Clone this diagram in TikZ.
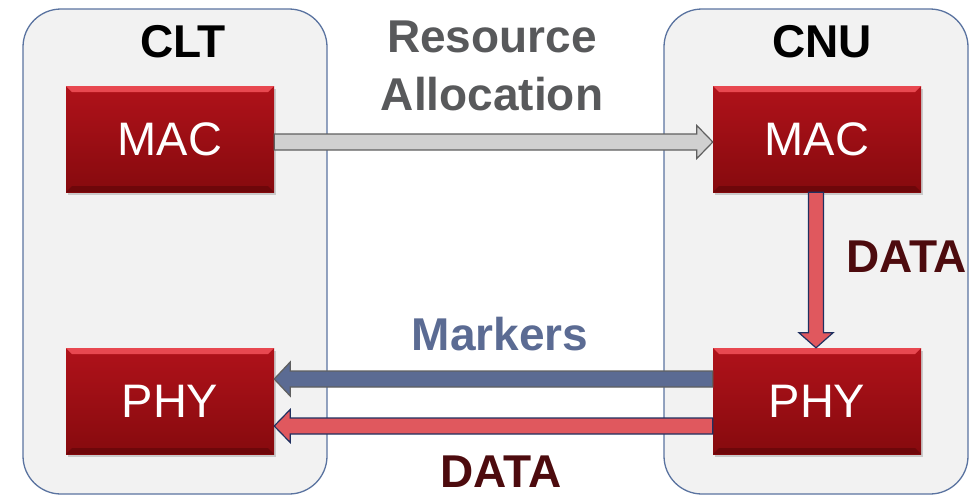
\documentclass[tikz,border=0pt]{standalone}
\usepackage{fontspec}
\setmainfont{Liberation Sans}
\usetikzlibrary{calc,shadows}
\definecolor{contfill}{HTML}{F2F2F2}
\definecolor{contedge}{HTML}{5A73A0}
\definecolor{boxtop}{HTML}{B0121A}
\definecolor{boxbot}{HTML}{860A0E}
\definecolor{boxhi}{HTML}{E84850}
\definecolor{boxlo}{HTML}{5E0608}
\definecolor{graytxt}{HTML}{58595B}
\definecolor{markcol}{HTML}{5B6B93}
\definecolor{datacol}{HTML}{4D0B0E}
\definecolor{redarrow}{HTML}{E0585E}
\definecolor{navy}{HTML}{1F3060}
\definecolor{grayfill}{HTML}{D0D0D0}
\definecolor{grayedge}{HTML}{5F5F5F}
\tikzset{
  cont/.style={draw=contedge, line width=1.3pt, fill=contfill, rounded corners=38pt},
  blk/.style={minimum width=208pt, minimum height=106pt, inner sep=0pt, text=white,
    font=\fontsize{47}{50}\selectfont, top color=boxtop, bottom color=boxbot,
    drop shadow={shadow xshift=2pt, shadow yshift=-3pt, opacity=0.35},
    path picture={
      \fill[boxhi] (path picture bounding box.north west) -- (path picture bounding box.north east)
        -- ++(-6pt,-6pt) -- ($(path picture bounding box.north west)+(6pt,-6pt)$) -- cycle;
      \fill[boxlo,opacity=0.6] (path picture bounding box.south west) -- (path picture bounding box.south east)
        -- ++(-6pt,6pt) -- ($(path picture bounding box.south west)+(6pt,6pt)$) -- cycle;
    }},
  ttl/.style={font=\bfseries\fontsize{46}{50}\selectfont, anchor=base, inner sep=0pt},
  grayarr/.style={fill=grayfill, draw=grayedge, line width=1.2pt, line join=miter},
  redarr/.style={fill=redarrow, draw=navy, line width=1.2pt, line join=miter},
  markarr/.style={fill=markcol, draw=grayedge, line width=1.2pt, line join=miter},
}
\begin{document}
\begin{tikzpicture}[x=1pt,y=-1pt]
\useasboundingbox (0,0) rectangle (974,499);
% containers
\draw[cont] (23,9) rectangle (327,494);
\draw[cont] (664,9) rectangle (968,494);
% titles
\node[ttl] (clt) at (183,57) {CLT};
\node[ttl] (cnu) at (822,57) {CNU};
% blocks
\node[blk] (macL) at (170,139) {MAC};
\node[blk] (macR) at (817,139) {MAC};
\node[blk] (phyL) at (170,401) {PHY};
\node[blk] (phyR) at (817,401) {PHY};
% Resource allocation arrow (gray, right)
\coordinate (g1) at ($(macL.east)+(0,3)$);
\coordinate (g2) at ($(macR.west)+(0,3)$);
\draw[grayarr] ($(g1)+(0,-8)$) -- ($(g2)+(-16,-8)$) -- ($(g2)+(-16,-16.5)$) -- (g2)
  -- ($(g2)+(-16,16.5)$) -- ($(g2)+(-16,8)$) -- ($(g1)+(0,8)$) -- cycle;
% DATA vertical arrow
\coordinate (d1) at ($(macR.south)+(-1,0)$);
\coordinate (d2) at ($(phyR.north)+(-1,0)$);
\draw[redarr] ($(d1)+(-7.5,0)$) -- ($(d2)+(-7.5,-15)$) -- ($(d2)+(-17,-15)$) -- (d2)
  -- ($(d2)+(17,-15)$) -- ($(d2)+(7.5,-15)$) -- ($(d1)+(7.5,0)$) -- cycle;
% Markers arrow (left)
\coordinate (m1) at ($(phyR.west)+(0,-22)$);
\coordinate (m2) at ($(phyL.east)+(0,-22)$);
\draw[markarr] ($(m1)+(0,-8)$) -- ($(m2)+(16,-8)$) -- ($(m2)+(16,-17)$) -- (m2)
  -- ($(m2)+(16,17)$) -- ($(m2)+(16,8)$) -- ($(m1)+(0,8)$) -- cycle;
% DATA arrow (left)
\coordinate (r1) at ($(phyR.west)+(0,25)$);
\coordinate (r2) at ($(phyL.east)+(0,25)$);
\draw[redarr] ($(r1)+(0,-8)$) -- ($(r2)+(16,-8)$) -- ($(r2)+(16,-16.5)$) -- (r2)
  -- ($(r2)+(16,16.5)$) -- ($(r2)+(16,8)$) -- ($(r1)+(0,8)$) -- cycle;
% labels
\node[ttl, text=graytxt] (res) at (492,52) {Resource};
\node[ttl, text=graytxt] (alloc) at (492,110) {Allocation};
\node[ttl, text=markcol] (mk) at (500,350) {Markers};
\node[ttl, text=datacol, anchor=base west, font=\bfseries\fontsize{46}{50}\selectfont] (dataR) at (846,272) {DATA};
\node[ttl, text=datacol, font=\bfseries\fontsize{46}{50}\selectfont] (dataB) at (501,487) {DATA};
\end{tikzpicture}
\end{document}
